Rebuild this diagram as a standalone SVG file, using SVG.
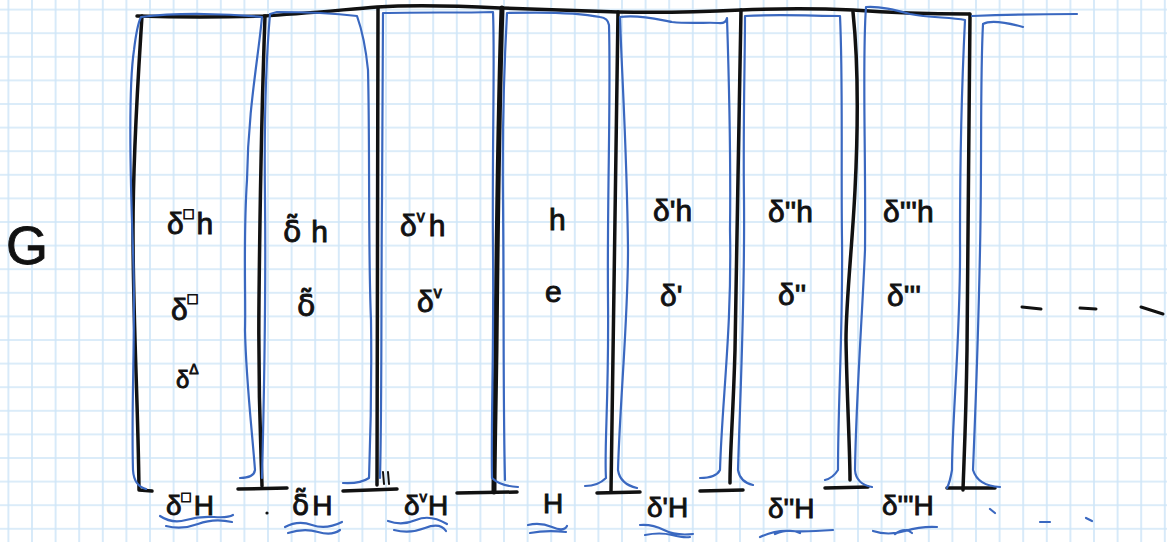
<svg xmlns="http://www.w3.org/2000/svg" width="1167" height="542" viewBox="0 0 1167 542">
<defs>
<pattern id="grid" patternUnits="userSpaceOnUse" x="-3.4" y="-2.2" width="23.6" height="23.6">
<path d="M11.8 0 V23.6 M0 11.8 H23.6" stroke="#cfe6f8" stroke-width="1.6" fill="none"/>
</pattern>
<style>
.blk{fill:none;stroke:#111;stroke-width:3.5;stroke-linecap:round;stroke-linejoin:round}
.thick{stroke-width:5}
.blu{fill:none;stroke:#3a68c0;stroke-width:2.2;stroke-linecap:round;stroke-linejoin:round}
.t{font-family:"Liberation Sans","DejaVu Sans",sans-serif;font-size:30px;fill:#111;stroke:#111;stroke-width:0.9}
.b{font-size:28px}
.sup{font-size:16px}
.dv{font-family:"DejaVu Sans",sans-serif}
</style>
</defs>
<rect width="1167" height="542" fill="#ffffff"/>
<rect width="1167" height="542" fill="url(#grid)"/>

<g id="frame">
<path class="blk" d="M137,16 C170,17 230,17 263,16 C300,14 340,10 377,7 C410,5 460,6 500,8 C540,9 580,11 618,12 C660,13 700,12 741,10 C790,8 830,9 853,10 C880,12 920,14 969,14"/>
<path class="blk" d="M142,16 C138,80 133,150 133,230 C133,320 138,400 139,490 L152,491"/>
<path class="blk" d="M265,16 C262,100 260,200 259,300 C258,400 261,450 262,486"/>
<path class="blk" d="M378,8 C377,150 378,300 377,485"/>
<path class="blk" d="M383,472 L384,484 M388,472 L389,484" style="stroke-width:2"/>
<path class="blk thick" d="M502,8 C499,100 497,250 496,350 C495,420 494,460 494,492"/>
<path class="blk" d="M618,12 C616,150 613,300 611,492"/>
<path class="blk" d="M741,10 C739,100 737,250 735,350 C733,420 730,450 730,483"/>
<path class="blk" d="M853,12 C858,60 858,130 855,190 C852,250 846,300 846,340 C847,400 850,450 850,480"/>
<path class="blk" d="M970,14 C969,100 968,250 967,350 C966,420 964,460 963,490"/>
</g>

<g id="connectors">
<path class="blk" d="M238,489 L287,488"/>
<path class="blk" d="M343,491 L397,489"/>
<path class="blk" d="M457,493 L517,492"/>
<path class="blk" d="M597,493 L640,492"/>
<path class="blk" d="M700,491 L743,490"/>
<path class="blk" d="M825,488 L868,487"/>
<path class="blk" d="M947,488 L995,488"/>
</g>

<g id="G-label">
<text class="t" x="6" y="264" style="font-size:54px">G</text>
</g>

<g id="col1">
<path class="blu" d="M146,489 Q134,486 133,470 C131,400 136,330 133,250 C130,170 128,90 134,50 Q137,25 141,17 C180,12 230,14 262,17 C258,60 248,110 247,180 C243,240 246,300 245,330 C246,380 252,430 255,470 Q254,478 240,478"/>
<text class="t" x="167" y="234">δ<tspan class="sup" dy="-15">□</tspan><tspan dy="15" dx="3">h</tspan></text>
<text class="t" x="171" y="320">δ<tspan class="sup" dy="-16">□</tspan></text>
<text class="t" x="176" y="388" style="font-size:24px">δ<tspan style="font-size:14px" dy="-14">Δ</tspan></text>
</g>

<g id="col2">
<path class="blu" d="M262,478 C264,400 266,300 265,200 C264,120 266,60 270,14 L277,12 C310,12 340,14 357,16 C362,30 366,50 368,70 C370,150 368,250 371,320 C372,400 370,450 369,478 Q360,484 343,483"/>
<text class="t" x="283" y="242"><tspan class="dv">δ̃</tspan><tspan dx="10">h</tspan></text>
<text class="t" x="297" y="316"><tspan class="dv">δ̃</tspan></text>
</g>

<g id="col3">
<path class="blu" d="M380,478 C382,400 381,300 382,200 C383,120 383,50 383,13 C420,12 460,13 493,12 C495,60 492,150 493,250 C494,350 491,420 492,478 Q500,486 518,487"/>
<text class="t" x="400" y="236">δ<tspan class="sup" dy="-14">v</tspan><tspan dy="14" dx="4">h</tspan></text>
<text class="t" x="417" y="312">δ<tspan class="sup" dy="-14">v</tspan></text>
</g>

<g id="col4">
<path class="blu" d="M505,480 C503,400 504,300 503,200 C502,120 505,50 507,13 C540,12 580,13 600,17 Q608,18 609,25 C611,100 607,200 608,300 C609,400 604,450 606,478 Q598,486 585,486"/>
<text class="t" x="549" y="230">h</text>
<text class="t" x="545" y="302">e</text>
</g>

<g id="col5">
<path class="blu" d="M637,488 Q620,484 618,470 C620,400 628,320 628,250 C627,150 622,80 620,17 C640,14 660,20 672,22 C690,24 710,22 718,23 Q726,24 727,18 C729,80 731,150 730,230 C732,330 722,400 720,470 Q716,478 700,478"/>
<text class="t" x="653" y="221">δ'h</text>
<text class="t" x="660" y="306">δ'</text>
</g>

<g id="col6">
<path class="blu" d="M753,485 Q740,482 738,470 C740,400 745,300 744,200 C743,120 745,60 745,16 C780,14 815,16 840,16 C843,80 841,160 842,240 C843,330 838,400 838,470 Q833,478 825,480"/>
<text class="t" x="768" y="222">δ''h</text>
<text class="t" x="778" y="305">δ''</text>
</g>

<g id="col7">
<path class="blu" d="M872,487 Q856,484 855,470 C856,400 862,320 865,250 C866,150 862,60 866,7 C880,6 895,10 910,14 C930,18 950,17 965,20 C962,80 960,160 960,240 C961,330 952,420 952,470 Q950,482 947,488"/>
<text class="t" x="883" y="222">δ'''h</text>
<text class="t" x="887" y="306">δ'''</text>
</g>

<g id="col8">
<path class="blu" d="M972,16 C1000,15 1040,14 1077,14"/>
<path class="blu" d="M1023,27 C1005,22 990,20 983,24 C980,80 982,160 980,250 C978,350 975,420 973,470 Q978,486 1000,487"/>
<path class="blk" d="M1022,307 L1041,309 M1080,308 L1096,309 M1141,307 L1163,314" style="stroke-width:3"/>
</g>

<g id="bottom-labels">
<text class="t b" x="166" y="515">δ<tspan style="font-size:15px" dy="-13">□</tspan><tspan dy="13" dx="3">H</tspan></text>
<text class="t b" x="292" y="515"><tspan class="dv">δ̃</tspan><tspan dx="3">H</tspan></text>
<text class="t b" x="404" y="515">δ<tspan style="font-size:15px" dy="-13">v</tspan><tspan dy="13" dx="1">H</tspan></text>
<text class="t b" x="543" y="513">H</text>
<text class="t b" x="647" y="517">δ'H</text>
<text class="t b" x="768" y="518">δ''H</text>
<text class="t b" x="882" y="515">δ'''H</text>
<circle cx="267" cy="513" r="1.6" fill="#111"/>
<path class="blu" d="M160,516 Q172,524 186,520 T214,517 T233,515 M166,526 Q182,530 198,524 T232,522"/>
<path class="blu" d="M285,527 Q298,520 312,525 T342,522 M288,533 Q304,528 318,532 T340,530"/>
<path class="blu" d="M388,521 Q402,526 416,520 T447,524 M394,530 Q410,534 425,528 T446,531"/>
<path class="blu" d="M528,525 Q540,522 552,527 T567,526 M530,533 Q546,530 566,532"/>
<path class="blu" d="M640,525 Q652,524 664,530 T693,534 M645,535 Q660,532 672,535 T690,537"/>
<path class="blu" d="M760,537 Q775,530 790,531 T833,530 M775,534 Q790,528 800,533"/>
<path class="blu" d="M873,531 Q888,536 905,531 T937,527 M895,534 Q905,527 912,533"/>
<path class="blu" d="M990,509 L995,513 M1040,522 L1050,522 M1086,518 L1092,521"/>
</g>
</svg>
